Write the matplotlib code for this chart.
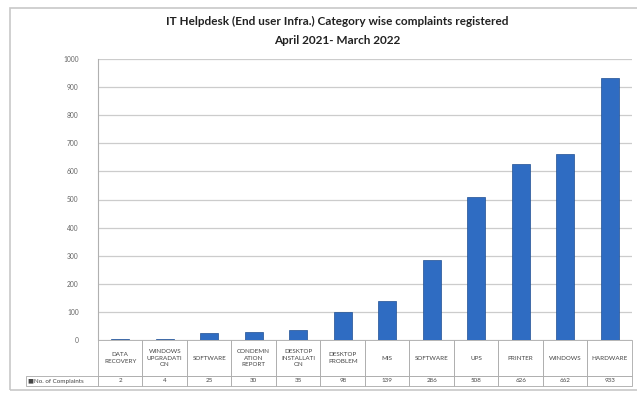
import matplotlib
matplotlib.use("Agg")
import matplotlib.pyplot as plt
from matplotlib.patches import Rectangle

categories = ["DATA\nRECOVERY", "WINDOWS\nUPGRADATI\nON", "SOFTWARE", "CONDEMN\nATION\nREPORT",
              "DESKTOP\nINSTALLATI\nON", "DESKTOP\nPROBLEM", "MIS", "SOFTWARE", "UPS",
              "PRINTER", "WINDOWS", "HARDWARE"]
complaints = [2, 4, 25, 30, 35, 98, 139, 286, 508, 626, 662, 933]
series_name = "No. of Complaints"
yticks = list(range(0, 1001, 100))

plt.rcParams['font.family'] = ['Lato', 'DejaVu Sans']

fig = plt.figure(figsize=(6.37, 3.94), dpi=100)
fig.patch.set_facecolor('white')
fig.add_artist(Rectangle((10/637, 1-390/394), 1-10/637+0.01, (390-8)/394,
                         transform=fig.transFigure, fill=False, edgecolor='#c8c8c8', lw=1.2))

ax = fig.add_axes([98/637, 1-340/394, (632-98)/637, (340-59)/394])
x = list(range(len(complaints)))
ax.bar(x, complaints, width=0.4, color='#2f6cc2', edgecolor='#1f4f92', linewidth=0.5, zorder=3)
ax.set_xlim(-0.5, len(complaints)-0.5)
ax.set_ylim(0, 1000)
ax.set_yticks(yticks)
ax.set_yticklabels([str(t) for t in yticks], fontsize=4.8, color='#666666')
ax.tick_params(axis='y', length=0, pad=14)
ax.set_xticks([])
ax.grid(axis='y', color='#cccccc', linewidth=0.9, zorder=0)
for s in ['top', 'right', 'bottom']:
    ax.spines[s].set_visible(False)
ax.spines['left'].set_color('#b0b0b0')

fig.text(0.53, 1-21/394, "IT Helpdesk (End user Infra.) Category wise complaints registered",
         ha='center', va='center', fontsize=8.5, fontweight='bold', color='#222222')
fig.text(0.53, 1-40/394, "April 2021- March 2022",
         ha='center', va='center', fontsize=8.5, fontweight='bold', color='#222222')

# data table
cell_text = [[""] + categories, ["\u25a0" + series_name] + [str(v) for v in complaints]]
first_w = (97-25)/534
col_w = 1/len(complaints)
tbl = ax.table(cellText=cell_text, colWidths=[first_w] + [col_w]*len(complaints),
               bbox=[-first_w, -(386-340)/281, 1+first_w, (386-340)/281], cellLoc='center')
tbl.auto_set_font_size(False)
for (r, c), cell in tbl.get_celld().items():
    cell.set_edgecolor('#a8a8a8')
    cell.set_linewidth(0.6)
    cell.get_text().set_fontsize(4.5)
    cell.get_text().set_color('#444444')
    cell.set_height(36 if r == 0 else 10)
    if r == 0 and c == 0:
        cell.visible_edges = ''
    if r == 1 and c == 0:
        cell.get_text().set_ha('left')
        cell._loc = 'left'
        cell.PAD = 0.03
    if r == 0:
        cell.get_text().set_linespacing(1.3)

fig.savefig("out.png", dpi=100)
